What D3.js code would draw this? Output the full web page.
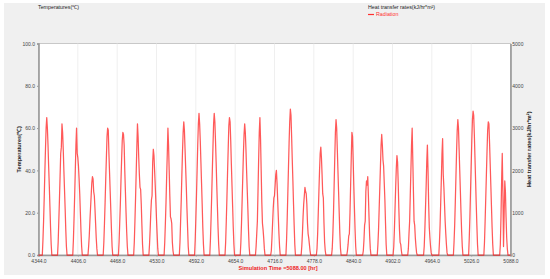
<!DOCTYPE html>
<html>
<head>
<meta charset="utf-8">
<script src="https://cdn.jsdelivr.net/npm/d3@7"></script>
<style>
  body { margin: 0; background: #fff; }
  text { font-family: Arial, "Liberation Sans", sans-serif; }
</style>
</head>
<body>
<svg id="chart" width="550" height="279"></svg>
<script>
// simulation window (hours)
let tStart = 4344
let tEnd = 5088
let xTicks = [4344, 4406, 4468, 4530, 4592, 4654, 4716, 4778, 4840, 4902, 4964, 5026, 5088]
let yLeftTicks = [0, 20, 40, 60, 80, 100]
let yRightTicks = [0, 1000, 2000, 3000, 4000, 5000]

// hours of each day that carry a reading (night = 0)
let dayHours = [6, 7, 8, 9, 10, 11, 12, 13, 14, 15, 16, 17, 18, 19, 20, 21]

// daily curves
let radiationDays = [
  [0, 7, 16, 27, 39, 50, 60, 65, 60, 52, 42, 33, 23, 13, 5, 0],
  [0, 6, 16, 26, 37, 48, 51, 62, 58, 50, 40, 31, 22, 12, 4, 0],
  [0, 7, 17, 28, 40, 52, 60, 48, 46, 42, 36, 29, 20, 11, 4, 0],
  [0, 4, 9, 16, 22, 28, 34, 37, 36, 30, 28, 22, 15, 8, 3, 0],
  [0, 6, 15, 25, 36, 46, 56, 60, 59, 48, 39, 30, 21, 12, 4, 0],
  [0, 6, 15, 24, 35, 45, 54, 58, 57, 52, 40, 30, 20, 11, 4, 0],
  [0, 6, 16, 27, 39, 51, 62, 56, 46, 38, 32, 31, 24, 14, 5, 0],
  [0, 5, 12, 20, 26, 28, 44, 50, 47, 40, 33, 25, 17, 10, 3, 0],
  [0, 6, 15, 25, 37, 48, 60, 52, 40, 28, 18, 17, 15, 6, 2, 0],
  [0, 6, 16, 26, 38, 49, 58, 63, 59, 50, 41, 32, 22, 13, 4, 0],
  [0, 7, 17, 28, 40, 52, 62, 67, 62, 54, 44, 34, 24, 13, 5, 0],
  [0, 7, 17, 28, 40, 51, 62, 67, 63, 54, 44, 33, 23, 13, 5, 0],
  [0, 6, 16, 27, 39, 50, 61, 65, 63, 54, 43, 33, 23, 13, 5, 0],
  [0, 6, 15, 26, 37, 48, 57, 62, 58, 50, 40, 31, 22, 12, 4, 0],
  [0, 4, 10, 16, 30, 45, 58, 65, 55, 40, 25, 15, 12, 8, 3, 0],
  [0, 2, 8, 15, 22, 27, 28, 33, 38, 40, 34, 26, 18, 10, 4, 0],
  [0, 7, 17, 29, 41, 53, 63, 69, 66, 56, 45, 35, 24, 14, 5, 0],
  [0, 4, 10, 18, 24, 28, 32, 30, 29, 24, 15, 10, 8, 5, 2, 0],
  [0, 3, 10, 20, 30, 40, 48, 51, 46, 38, 29, 27, 15, 6, 2, 0],
  [0, 3, 10, 20, 33, 46, 58, 64, 60, 50, 40, 30, 20, 10, 3, 0],
  [0, 2, 5, 9, 10, 20, 33, 46, 58, 56, 45, 33, 22, 12, 4, 0],
  [0, 0, 2, 7, 14, 16, 30, 35, 33, 37, 28, 18, 9, 3, 0, 0],
  [0, 5, 12, 22, 32, 42, 52, 57, 52, 45, 42, 34, 26, 15, 5, 0],
  [0, 0, 4, 12, 22, 32, 41, 47, 44, 34, 22, 12, 6, 5, 2, 0],
  [0, 3, 10, 16, 28, 40, 52, 60, 45, 30, 16, 14, 8, 4, 1, 0],
  [0, 0, 4, 12, 22, 32, 44, 52, 40, 24, 13, 8, 4, 1, 0, 0],
  [0, 0, 6, 14, 25, 36, 48, 55, 38, 32, 24, 16, 10, 5, 1, 0],
  [0, 6, 14, 25, 37, 49, 59, 64, 60, 50, 40, 30, 20, 11, 4, 0],
  [0, 8, 18, 30, 42, 54, 64, 68, 66, 57, 46, 35, 24, 14, 5, 0],
  [0, 6, 16, 27, 38, 49, 59, 63, 62, 53, 43, 33, 23, 13, 5, 0],
  [0, 0, 5, 18, 35, 48, 30, 4, 20, 35, 30, 18, 8, 3, 0, 0]
]

let svg = d3.select("#chart")

let pLeft = 38.5, pRight = 510.5, pTop = 43.5, pBottom = 255

let xScale = d3.scaleLinear().domain([tStart, tEnd]).range([pLeft, pRight])
let yLeft = d3.scaleLinear().domain([0, 100]).range([pBottom, pTop])
let yRight = d3.scaleLinear().domain([0, 5000]).range([pBottom, pTop])

// build series: one point per reading, plus start/end at 0
let series = [{ t: tStart, v: 0 }]
radiationDays.forEach((day, i) => {
  day.forEach((v, j) => {
    series.push({ t: tStart + i * 24 + dayHours[j], v: v })
  })
})
series.push({ t: tEnd, v: 0 })

// panel
svg.append("rect")
  .attr("x", 4).attr("y", 3)
  .attr("width", 541).attr("height", 272)
  .attr("fill", "#f0f0f0")

svg.append("rect")
  .attr("x", pLeft).attr("y", pTop)
  .attr("width", pRight - pLeft).attr("height", pBottom - pTop)
  .attr("fill", "#fff")
  .attr("stroke", "#c8c8c8")
  .attr("stroke-width", 1)

// faint vertical grid
svg.append("g")
  .selectAll("line")
  .data(xTicks.slice(1, -1))
  .join("line")
  .attr("x1", d => xScale(d)).attr("x2", d => xScale(d))
  .attr("y1", pTop).attr("y2", pBottom)
  .attr("stroke", "#ebebeb")
  .attr("stroke-width", 0.8)

// axes
let xAxis = d3.axisBottom(xScale).tickValues(xTicks).tickSize(1.5).tickPadding(2).tickFormat(d3.format(".1f"))
let yAxisL = d3.axisLeft(yLeft).tickValues(yLeftTicks).tickSize(1.5).tickPadding(2).tickFormat(d3.format(".1f"))
let yAxisR = d3.axisRight(yRight).tickValues(yRightTicks).tickSize(0).tickPadding(1.8).tickFormat(d3.format("d"))

function styleAxis(g) {
  g.select(".domain").attr("stroke", "#999").attr("stroke-width", 1.6)
  g.selectAll(".tick line").attr("stroke", "#999")
  g.selectAll(".tick text")
    .attr("fill", "#444")
    .style("font-size", "5px")
}

svg.append("g")
  .attr("transform", `translate(0, ${pBottom})`)
  .call(xAxis)
  .call(styleAxis)
  .call(g => g.selectAll(".tick text").attr("dy", "0.9em"))

svg.append("g")
  .attr("transform", `translate(${pLeft}, 0)`)
  .call(yAxisL)
  .call(styleAxis)

svg.append("g")
  .attr("transform", `translate(${pRight}, 0)`)
  .call(yAxisR)
  .call(styleAxis)

// the line
let line = d3.line()
  .x(d => xScale(d.t))
  .y(d => yLeft(d.v))

svg.append("path")
  .datum(series)
  .attr("fill", "none")
  .attr("stroke", "#ff0000")
  .attr("stroke-opacity", 0.65)
  .attr("stroke-width", 1.25)
  .attr("stroke-linejoin", "round")
  .attr("d", line)

// titles
svg.append("text")
  .attr("x", 38).attr("y", 9)
  .style("font-size", "5.3px")
  .attr("fill", "#222")
  .text("Temperatures(℃)")

svg.append("text")
  .attr("x", 368).attr("y", 8.5)
  .style("font-size", "5.3px")
  .attr("fill", "#222")
  .text("Heat transfer rates(kJ/hr*m²)")

svg.append("line")
  .attr("x1", 368).attr("x2", 374)
  .attr("y1", 14.5).attr("y2", 14.5)
  .attr("stroke", "#ff3030")
  .attr("stroke-width", 1.2)

svg.append("text")
  .attr("x", 376).attr("y", 16.3)
  .style("font-size", "5.3px")
  .attr("fill", "#ff3030")
  .text("Radiation")

svg.append("text")
  .attr("transform", `translate(21, ${(pTop + pBottom) / 2}) rotate(-90)`)
  .attr("text-anchor", "middle")
  .style("font-size", "5.6px")
  .style("font-weight", "bold")
  .attr("fill", "#222")
  .text("Temperatures(℃)")

svg.append("text")
  .attr("transform", `translate(531, ${(pTop + pBottom) / 2}) rotate(-90)`)
  .attr("text-anchor", "middle")
  .style("font-size", "5.6px")
  .style("font-weight", "bold")
  .attr("fill", "#222")
  .text("Heat transfer rates(kJ/hr*m²)")

svg.append("text")
  .attr("x", 278).attr("y", 269.5)
  .attr("text-anchor", "middle")
  .style("font-size", "5.6px")
  .style("font-weight", "bold")
  .attr("fill", "#ee1c1c")
  .text("Simulation Time =5088.00 [hr]")
</script>
</body>
</html>
